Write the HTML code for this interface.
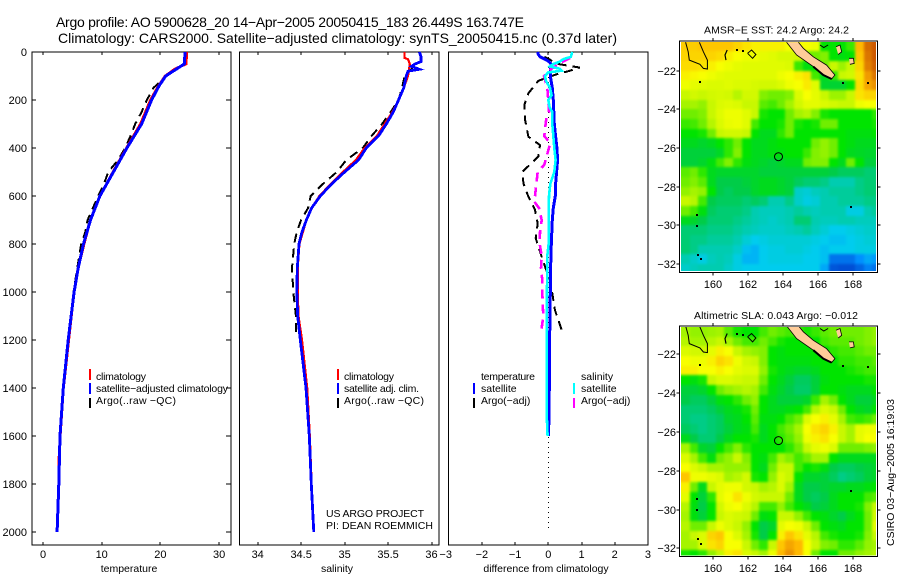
<!DOCTYPE html>
<html>
<head>
<meta charset="utf-8">
<title>Argo profile</title>
<style>
html,body{margin:0;padding:0;background:#fff;}
#chart{display:block;width:900px;height:580px;}
text{font-family:"Liberation Sans",sans-serif;fill:#000;}
.t{font-size:14px;}
.s{font-size:10.5px;}
.k{font-size:11px;}
</style>
</head>
<body>
<svg id="chart" xmlns="http://www.w3.org/2000/svg" width="900" height="580" viewBox="0 0 900 580">
  <rect x="0" y="0" width="900" height="580" fill="#fff"/>
  <text class="t" x="56" y="27" textLength="468">Argo profile: AO 5900628_20 14−Apr−2005 20050415_183 26.449S 163.747E</text>
  <text class="t" x="58" y="43" textLength="559">Climatology: CARS2000. Satellite−adjusted climatology: synTS_20050415.nc (0.37d later)</text>

  <g id="p1"></g>
  <g id="p2"></g>
  <g id="p3"></g>

  <text class="s" x="129" y="572" text-anchor="middle">temperature</text>
  <text class="s" x="337" y="572" text-anchor="middle">salinity</text>
  <text class="s" x="546" y="572" text-anchor="middle">difference from climatology</text>

  <g>
    <line x1="90" y1="369" x2="90" y2="380" stroke="#f00" stroke-width="2"/>
    <line x1="90" y1="383" x2="90" y2="394" stroke="#00f" stroke-width="2"/>
    <line x1="90" y1="398" x2="90" y2="408" stroke="#000" stroke-width="2"/>
    <text class="s" x="96" y="380" textLength="50">climatology</text>
    <text class="s" x="96" y="392" textLength="132">satellite−adjusted climatology</text>
    <text class="s" x="96" y="404" textLength="80">Argo(..raw −QC)</text>
  </g>
  <g>
    <line x1="338" y1="369" x2="338" y2="380" stroke="#f00" stroke-width="2"/>
    <line x1="338" y1="383" x2="338" y2="394" stroke="#00f" stroke-width="2"/>
    <line x1="338" y1="398" x2="338" y2="408" stroke="#000" stroke-width="2"/>
    <text class="s" x="344" y="380" textLength="50">climatology</text>
    <text class="s" x="344" y="392" textLength="75">satellite adj. clim.</text>
    <text class="s" x="344" y="404" textLength="80">Argo(..raw −QC)</text>
  </g>
  <text class="s" x="326" y="517" textLength="98">US ARGO PROJECT</text>
  <text class="s" x="326" y="529" textLength="107">PI: DEAN ROEMMICH</text>

  <g>
    <line x1="474" y1="383" x2="474" y2="394" stroke="#00f" stroke-width="2"/>
    <line x1="474" y1="398" x2="474" y2="408" stroke="#000" stroke-width="2"/>
    <text class="s" x="481" y="380" textLength="54">temperature</text>
    <text class="s" x="481" y="392">satellite</text>
    <text class="s" x="481" y="404">Argo(−adj)</text>
    <line x1="574" y1="383" x2="574" y2="394" stroke="#0ff" stroke-width="2"/>
    <line x1="574" y1="398" x2="574" y2="408" stroke="#f0f" stroke-width="2"/>
    <text class="s" x="581" y="380">salinity</text>
    <text class="s" x="581" y="392">satellite</text>
    <text class="s" x="581" y="404">Argo(−adj)</text>
  </g>

  <defs>
    <clipPath id="clipA"><rect x="681" y="42" width="195" height="229"/></clipPath>
    <clipPath id="clipB"><rect x="681" y="327" width="195" height="228.5"/></clipPath>
    <filter id="soften" x="-5%" y="-5%" width="110%" height="110%" color-interpolation-filters="sRGB">
      <feGaussianBlur stdDeviation="1.4"/>
    </filter>
  </defs>
  <g id="mapA"></g>
  <g id="mapB"></g>
  <text class="s" x="776.5" y="33.5" text-anchor="middle" textLength="145">AMSR−E SST: 24.2 Argo: 24.2</text>
  <text class="s" x="776" y="319" text-anchor="middle" textLength="164">Altimetric SLA: 0.043 Argo: −0.012</text>
  <text class="s" transform="translate(894,546) rotate(-90)" textLength="147">CSIRO 03−Aug−2005 16:19:03</text>
</svg>

<script>
// ---- depth-profile data ----
const depthTicks = [0, 200, 400, 600, 800, 1000, 1200, 1400, 1600, 1800, 2000];
const tempTicks = [0, 10, 20, 30];
const salTicks = [34, 34.5, 35, 35.5, 36];
const salTickLabels = ['34', '34.5', '35', '35.5', '36'];
const diffTicks = [-3, -2, -1, 0, 1, 2, 3];

const tempClimDepth = [0, 50, 70, 100, 140, 200, 300, 400, 500, 600, 700, 800, 900, 1000, 1200, 1400, 1600, 1700, 1800, 2000];
const tempClimValue = [24.5, 24.4, 22.5, 20.8, 19.7, 18.3, 16.6, 14.2, 11.9, 9.7, 8.1, 7.0, 6.0, 5.3, 4.4, 3.5, 2.95, 2.7, 2.7, 2.4];
const tempSatDepth = [0, 50, 70, 100, 140, 200, 300, 400, 500, 600, 700, 800, 900, 1000, 1200, 1400, 1600, 1800, 2000];
const tempSatValue = [24.2, 24.07, 22.8, 20.9, 19.8, 18.5, 16.8, 14.3, 12, 9.7, 8.1, 6.9, 6, 5.3, 4.3, 3.46, 2.9, 2.7, 2.4];
const tempArgoDepth = [0, 50, 75, 100, 150, 200, 250, 300, 350, 400, 450, 500, 550, 600, 650, 700, 750, 800, 900, 1000, 1150];
const tempArgoValue = [24.3, 24.3, 22.5, 20.9, 18.8, 17.7, 16.8, 15.7, 14.9, 14, 12.8, 11.1, 10.4, 9.4, 8.5, 7.6, 7.2, 6.5, 5.85, 5.2, 4.6];

const salClimDepth = [0, 25, 30, 50, 100, 150, 200, 250, 300, 350, 400, 450, 500, 550, 600, 650, 700, 800, 900, 1000, 1100, 1200, 1400, 1600, 1800, 2000];
const salClimValue = [35.69, 35.69, 35.73, 35.75, 35.73, 35.68, 35.62, 35.55, 35.46, 35.37, 35.23, 35.13, 34.98, 34.84, 34.71, 34.62, 34.56, 34.48, 34.46, 34.46, 34.47, 34.51, 34.57, 34.6, 34.62, 34.645];
const salSatDepth = [0, 20, 40, 50, 60, 72, 80, 100, 150, 200, 250, 300, 350, 400, 450, 500, 550, 600, 650, 700, 750, 800, 900, 1000, 1100, 1200, 1400, 1600, 1800, 2000];
const salSatValue = [35.86, 35.88, 35.88, 35.81, 35.77, 35.86, 35.73, 35.71, 35.68, 35.62, 35.56, 35.48, 35.39, 35.25, 35.16, 35, 34.85, 34.72, 34.62, 34.56, 34.51, 34.475, 34.456, 34.45, 34.46, 34.49, 34.556, 34.594, 34.617, 34.645];
const salArgoDepth = [60, 100, 150, 200, 250, 300, 350, 400, 450, 500, 550, 600, 650, 700, 750, 800, 900, 1000, 1100, 1170];
const salArgoValue = [35.8, 35.69, 35.66, 35.62, 35.53, 35.43, 35.31, 35.21, 35.02, 34.91, 34.75, 34.61, 34.58, 34.5, 34.45, 34.42, 34.395, 34.41, 34.44, 34.44];

const dTempSatDepth = [0, 10, 20, 30, 40, 50, 100, 150, 200, 300, 350, 400, 450, 500, 550, 600, 650, 700, 800, 900, 1000, 1100, 1200, 1400, 1600];
const dTempSatValue = [-0.32, -0.3, -0.25, -0.1, 0.02, 0.08, 0.06, 0.12, 0.15, 0.18, 0.22, 0.26, 0.28, 0.25, 0.22, 0.21, 0.15, 0.12, 0.09, 0.07, 0.06, 0.05, 0.04, 0.03, 0.01];
const dSalSatDepth = [0, 20, 30, 40, 50, 60, 70, 78, 85, 100, 120, 150, 180, 200, 230, 250, 300, 350, 400, 450, 500, 550, 600, 700, 800, 850, 1000, 1200, 1500, 1600];
const dSalSatValue = [0.72, 0.68, 0.45, 0.35, 0.15, 0.05, 0.35, 0.4, 0, -0.1, -0.07, 0.05, 0.1, 0, 0.04, 0.12, 0.12, 0.15, 0.18, 0.22, 0.18, 0.06, 0.02, 0.01, 0.01, -0.03, -0.04, -0.05, -0.05, -0.02];
const dSalArgoDepth = [25, 50, 75, 100, 150, 200, 250, 270, 300, 350, 380, 420, 470, 500, 550, 600, 620, 650, 700, 750, 800, 850, 900, 950, 1000, 1050, 1100, 1150, 1175];
const dSalArgoValue = [0.65, 0.3, 0.05, -0.13, -0.03, 0, 0.02, -0.05, -0.08, -0.12, 0.06, -0.02, -0.12, -0.32, -0.36, -0.4, -0.44, -0.28, -0.2, -0.25, -0.26, -0.2, -0.22, -0.18, -0.18, -0.17, -0.15, -0.2, -0.23];
const dTempArgoDepth = [20, 50, 65, 80, 93, 120, 172, 220, 283, 353, 388, 436, 499, 547, 603, 658, 714, 776, 832, 894, 950, 1006, 1075, 1165];
const dTempArgoValue = [-0.12, 0.3, 0.95, 0.6, 0.25, -0.3, -0.6, -0.72, -0.7, -0.6, -0.25, -0.3, -0.78, -0.75, -0.6, -0.4, -0.32, -0.38, -0.25, -0.1, 0.05, 0.12, 0.2, 0.42];
const zeroLineDepth = [0, 2000];
const zeroLineValue = [0, 0];

// ---- map data: 0.5 degree cells, colour level 0 (deep blue) to 10 (brown) ----
const mapLonTicks = [160, 162, 164, 166, 168];
const mapLatTicks = [-22, -24, -26, -28, -30, -32];
const sstRows = [
[8.7,8.7,8.8,8.8,8.8,8.8,8.6,8.4,8.2,8.2,8.2,8.2,8,8,8,7.8,5,5,5,5.5,9,9.8,10],
[8.6,8.6,8.6,8.6,8.5,8.2,8,7.8,7.8,7.6,7.5,7.3,7.3,7.2,6,6,6.2,5,4.8,5,8.8,9.7,10],
[8.5,8.5,8.4,8.2,8,7.8,7.6,7.5,7.5,7.5,7.5,7.5,7.4,5.5,4.8,5,6,7,6.5,7,8.6,9.6,9.9],
[8.2,8.1,8,7.8,7.6,7.5,7.5,7.5,7.5,7.5,7.5,7.8,8,8.2,8.4,5.6,4.6,5.5,7,7.2,8.4,9.3,9.7],
[7.8,7.6,7.5,7.4,7.4,7.5,7.4,7.4,7.3,7.2,7.2,7.4,7.8,8,8.3,7.5,4.4,4.3,4.3,5,8.5,9.2,9.4],
[7,7.2,7,7.2,7.3,7.2,6.8,7.2,7.2,6.2,6,6,6.2,7.4,8,7.6,7,6.5,6.5,7,8.4,8.6,8.6],
[6.6,6.6,6.4,7,7.4,7.5,7.4,7,7,5.8,5.6,6,6.6,7.2,7.6,7.6,7.4,7.2,7,7,7.8,8,8],
[6,6,6.2,7,7.5,7.8,7.8,7.5,7,5.2,5,5,6,6.6,6.8,6.2,5.2,5,5,5,5,5,5.4],
[5.5,5.6,6,6.8,7.4,7.7,7.8,7.5,5.6,5,5,5.2,6,5.2,5,5.2,6,6,5,5,5,5,5.2],
[5,5,5.2,6,7,7.2,7.2,7,5,4.6,4.6,5.4,6,5,5,5,5,5,5,4.8,4.8,4.8,5],
[4.6,4.6,4.4,4.6,5,5.4,6,5,4.6,4.6,4.8,5,5,5,5,6,6.4,6,5,4.8,4.6,4.6,4.6],
[4.2,4.2,4.2,4.2,4.5,5.4,6.2,5,4.6,4.6,4.8,4.8,5,5,5.5,6.2,6.4,6,5,4.6,4.5,4.4,4.4],
[4.2,4.2,4.4,4.8,5.6,6.2,5.4,4.8,4.6,4.4,4.2,4.4,4.6,4.6,6,6.2,6.2,5,4.6,6,5,4.2,4.2],
[5.8,6,5.4,4.6,4.4,4.4,4.4,4.4,4.4,4.2,4.2,4.2,4.2,4.2,4.2,4.2,4.2,4,3.8,3.8,3.8,3.6,3.6],
[6,6.2,5.8,4.6,4,4,4,4.2,4.4,4.6,4.6,4.4,4.2,3.8,3.6,3.6,3.4,3,3,3,3.4,3.6,3.6],
[6.4,6.6,6.4,5,4,3.8,4,4,4.4,4.6,4.6,4.4,4.2,2.6,2.4,2.8,3,3.2,3.2,3.2,3.4,3.6,3.6],
[7,6.8,5.6,4,3.8,3.8,3.8,3.6,3.8,3.6,3,3,3.4,2.6,2.2,2.4,3,3,3.2,3.2,3.2,3.4,3.4],
[6,5.6,4.8,3.8,3.6,3.6,3.6,3.4,3,2.8,2.8,2.8,3,3.2,3,2.8,3,3,3,2.2,2.2,3,3.2],
[4.6,4.4,4,3.6,3.6,3.6,3.4,3.2,3,2.8,2.6,2.8,3,3.6,3.6,3,2.8,2.8,3,3,2.8,2.8,2.8],
[3.6,3.6,3.6,3.4,3.4,3.4,3.2,3,2.8,2.6,2.6,2.6,2.8,3,3.2,2.8,2.4,2,2,2.2,2.4,2.6,2.6],
[3.6,3.4,3.4,3.2,3.2,3.2,3,2.4,2,2.2,2.4,2.4,2.4,2.4,2.4,2.2,2,1.8,1.8,2,2.2,2.4,2.4],
[3.6,3.4,3,3,3,3,2.6,1.8,1.6,2,2.2,2.2,2.4,2.4,2.2,2,1.8,2,2,2,2.2,2.2,2.2],
[3,2.6,2.2,2.8,3,2.8,2.2,1.6,1.6,2,2.2,2.2,2.2,2.2,2,2,1.8,0.6,0.6,0.6,1,1.4,1.2],
[2.6,2.8,3,3,3,2.6,2.2,2,2,2,2,2,2,2,2,2,1.4,0.2,0.1,0.1,0.4,0.8,0.6]
];
const slaRows = [
[6.6,6.4,6.4,6.5,6.6,5.8,5.2,5,5,5.6,6,5.8,5.6,5.5,5.2,5.5,5.8,6,6,6,6,6.2,6.4],
[6.8,6.6,6.6,6.8,7,6.6,6,5.6,5.6,6,5.6,5.2,5,5,5,5,5.6,5.8,5.8,5.8,6,6.2,6.4],
[7.4,7.2,7.2,7.6,8.2,8,7,6.6,6.4,6.2,5,4.8,5,5,5,5,5,5.4,5.6,5.6,5.8,6,6],
[8,7.8,7.8,8.2,8.6,8.4,7.8,7.2,7,6.2,5,4.8,4.8,4.8,4.8,5,5,5,5.4,5.4,5.6,5.6,5.8],
[8.2,8.2,8,8,8.2,8,7.6,7.4,7.4,6.4,5.2,4.8,4.6,4.4,4.4,4.6,5,5,5,5.2,5.4,5.6,5.6],
[5,4.8,5.2,7,7.4,7.4,7.2,7,7,6,5,4.6,4.2,3.8,3.8,4.2,4.8,5,5,5,5,5.2,5.2],
[4.2,4.2,4.4,5,6,6.4,6.6,6.8,6.6,5.6,4.8,4.4,4,3.7,3.7,4.2,5,5,4.8,4.6,4.6,4.6,5],
[4,3.8,3.8,4.2,4.8,5,5.4,6,6.4,5,4.6,4.2,4.2,4.2,4.4,5.5,6.6,6,5,4.6,4.2,4.2,4.6],
[3.6,3.6,3.6,3.8,4.2,4.6,4.8,5.2,6,5,4.6,4.6,4.8,5,5.6,6.8,7.4,7,6,5,4.6,4.4,5],
[3.6,3.4,3.4,3.6,3.8,4.4,4.6,5,5.8,4.8,4.8,5,5.6,6,7.4,8,8.2,7.6,6.6,5.6,5.4,5.6,6],
[3.8,3.6,3.4,3.6,3.8,4.2,4.6,4.8,5.6,4.6,5,5.6,6,6.6,8,8.4,8.6,8.2,7,6.6,7.6,7.8,7.8],
[4.6,4,3.6,3.6,4,4.6,5,5,5.2,4.6,5,5.4,5.8,6.4,7.8,8.2,8.4,8,7,6.6,7.6,8,8],
[6.6,5.6,4.4,4.2,5,5.6,6.2,5.4,5,5,5,5,5.4,6,7,7.6,7.8,7.4,6,6,6,6.2,6.4],
[7.4,6.6,5.6,4.8,6,6.4,7,6.2,5,4.8,5.6,6.6,6.2,5.6,6,6.6,6.6,5,4.6,4.6,4.6,4.6,4.6],
[8,7.4,7,6.6,6.6,6.4,6.4,6.4,5,4.6,6,7,7,5.6,5,5.2,4.8,4,3.8,3.8,4,4.2,4.4],
[8.8,7.8,7.8,7.6,7.4,6.6,6.8,7.2,5.2,5,6.4,7.4,7,5,4.4,4.4,4.2,3.8,3.4,3.6,3.8,4.2,4.4],
[8.2,6,4.6,7,7.6,7.8,7.8,7.2,7,6.6,6.8,7.4,6.6,4.6,4,4,4.2,4.4,4.4,4.6,4.6,4.8,5],
[7.6,5,4.2,5.4,7.6,8,8.4,7.8,7.2,7,7,7,6,4.6,4,3.8,4,4.6,5,5,5,5.6,5.8],
[6.8,4.8,4,5,7.2,7.8,8,7.4,6.8,5.6,5.6,6.4,5.6,5,4.6,4,4.2,4.6,5,5,5.2,6.2,7],
[6.6,4.8,4.2,5,7,7.4,7.2,7,6,4.8,5,7,7,6.4,5.6,5,4.8,4.4,4,4.6,5,6,7.2],
[6.8,6,6,7,7.8,7.4,7,6.4,5,4,4.4,7.6,8,7.8,7,6,5,4.8,4.6,5,5,6,7.6],
[6.6,7,7.4,8.6,8.8,8,7.4,6.6,5.2,4,5,8.2,8.8,8.4,7.6,6.8,5.6,5.2,5,5,5.2,6.2,7],
[6.6,6.6,7.4,8.4,8.6,8,8,7,6,5.4,7,8.8,9.2,9,8,7,6.2,6,5.4,5.4,5.8,6.4,6.6],
[5.2,5,5.4,6.4,7,8.2,8.4,7.4,7,6.6,7.8,9,9.4,9,8,6,5,5,6,6,6.4,6.6,6.8]
];
const mainIslandLon = [164.89, 165.17, 165.75, 166.51, 166.99, 166.8, 166.32, 165.75, 164.79, 164.21];
const mainIslandLat = [-20.53, -20.84, -21.28, -21.71, -22.22, -22.43, -22.22, -21.79, -21.19, -20.53];
const southCoastLon = [165.75, 166.32, 166.8];
const southCoastLat = [-21.79, -22.22, -22.43];
const loyaltyALon = [167.05, 167.28, 167.38, 167.18];
const loyaltyALat = [-20.76, -20.67, -21.02, -21.16];
const loyaltyBLon = [167.8, 168.05, 168.1, 167.85];
const loyaltyBLat = [-21.36, -21.36, -21.62, -21.67];
const reefALon = [158.41, 158.56, 158.62, 159.23, 159.43, 159.66, 159.66, 159.43, 159.2];
const reefALat = [-20.53, -21.02, -21.45, -21.67, -21.88, -21.91, -21.45, -21.02, -20.53];
const reefBLon = [160.8, 160.67, 160.73];
const reefBLat = [-20.93, -21.19, -21.45];
const reefCLon = [161.97, 162.2, 162.45, 162.26, 161.97];
const reefCLat = [-21.1, -20.93, -21.16, -21.36, -21.1];
const reefDLon = [166.13, 166.35, 166.6];
const reefDLat = [-20.67, -20.8, -20.67];
const islandDotLon = [161.34, 161.72, 159.23, 167.43, 168.87, 167.91, 159.08, 159.04, 159.1, 159.27];
const islandDotLat = [-20.93, -20.98, -22.57, -22.62, -22.64, -29.07, -29.47, -30.02, -31.53, -31.76];
const floatLon = [163.747];
const floatLat = [-26.449];

// ---- axis functions ----
function yDepth(d) { return 52 + d * 0.24; }
function xTemp(v) { return 43 + v * 5.87; }
function xSal(v) { return 257.7 + (v - 34) * 86.9; }
function xDiff(v) { return 548.3 + v * 33.2; }
function mapX(lon) { return 713.3 + (lon - 160) * 17.4; }

const NS = 'http://www.w3.org/2000/svg';
function make(tag, parent, attrs) {
  const el = document.createElementNS(NS, tag);
  for (const k in attrs) el.setAttribute(k, attrs[k]);
  parent.appendChild(el);
  return el;
}

function frame(g, left, right, top, bottom) {
  const r = make('rect', g, { x: left, y: top, width: right - left, height: bottom - top, fill: 'none', stroke: '#000', 'stroke-width': 1.3, 'shape-rendering': 'crispEdges' });
  
  
}
function tick(g, x1, y1, x2, y2) {
  const l = make('line', g, { x1: x1, y1: y1, x2: x2, y2: y2, stroke: '#000', 'stroke-width': 1, 'shape-rendering': 'crispEdges' });
  
  
}
function label(g, x, y, txt, anchor) {
  const t = make('text', g, { x: x, y: y, 'text-anchor': anchor, class: 'k' });
  t.textContent = txt;
  
  
}
function fmt(v) { return String(v).replace('-', '−'); }

function series(g, name, xFn, depths, values, color, width, dash) {
  const pts = depths.map(function (d, i) { return xFn(values[i]).toFixed(1) + ',' + yDepth(d).toFixed(1); }).join(' ');
  const attrs = { points: pts, fill: 'none', stroke: color, 'stroke-width': width, 'stroke-linejoin': 'miter', 'shape-rendering': 'crispEdges' };
  if (dash) attrs['stroke-dasharray'] = dash;
  const p = make('polyline', g, attrs);
  
  
}

function panel(id, left, right, xFn, ticks, tickText, yLabels) {
  const g = document.getElementById(id);
  frame(g, left, right, 52, 545);
  ticks.forEach(function (v, i) {
    const x = Math.round(xFn(v));
    if (x > left + 1 && x < right - 1) {
      tick(g, x, 52, x, 55);
      tick(g, x, 545, x, 542);
    }
    label(g, id === 'p3' && v === -3 ? xFn(v) - 3 : xFn(v), 558, tickText[i], 'middle');
  });
  if (yLabels) {
    depthTicks.forEach(function (d) {
      const y = Math.round(yDepth(d));
      tick(g, left, y, left + 4, y);
      tick(g, right, y, right - 5, y);
      label(g, 27, y + 4, String(d), 'end');
    });
  }
  return g;
}

const g1 = panel('p1', 32, 231, xTemp, tempTicks, tempTicks.map(fmt), true);
series(g1, 'temperature-argo-line', xTemp, tempArgoDepth, tempArgoValue, '#000', 2, '9 6');
series(g1, 'temperature-climatology-line', xTemp, tempClimDepth, tempClimValue, '#f00', 2.6);
series(g1, 'temperature-satellite-line', xTemp, tempSatDepth, tempSatValue, '#00f', 3);

const g2 = panel('p2', 239.5, 439, xSal, salTicks, salTickLabels, false);
series(g2, 'salinity-argo-line', xSal, salArgoDepth, salArgoValue, '#000', 2, '9 6');
series(g2, 'salinity-climatology-line', xSal, salClimDepth, salClimValue, '#f00', 2.2);
series(g2, 'salinity-satellite-line', xSal, salSatDepth, salSatValue, '#00f', 2.8);

const g3 = panel('p3', 448.5, 648, xDiff, diffTicks, diffTicks.map(fmt), false);
series(g3, 'zero-reference-line', xDiff, zeroLineDepth, zeroLineValue, '#000', 1, '1 4');
series(g3, 'temperature-diff-argo-line', xDiff, dTempArgoDepth, dTempArgoValue, '#000', 2, '9 6');
series(g3, 'temperature-diff-satellite-line', xDiff, dTempSatDepth, dTempSatValue, '#00f', 3);
series(g3, 'salinity-diff-argo-line', xDiff, dSalArgoDepth, dSalArgoValue, '#f0f', 2.6, '9 6');
series(g3, 'salinity-diff-satellite-line', xDiff, dSalSatDepth, dSalSatValue, '#0ff', 2.6);

// ---- maps ----
const colorStops = ['#0048d0', '#0090ff', '#00ccee', '#00ccb0', '#00cc48', '#00e400', '#70ee00', '#c8f800', '#f8ff00', '#ffb800', '#cc5800'];
function hex2(h, i) { return parseInt(h.substr(i, 2), 16); }
function levelColor(v) {
  const i = Math.min(9, Math.floor(v));
  const f = v - i;
  const a = colorStops[i], b = colorStops[i + 1];
  const c = [1, 3, 5].map(function (p) { return Math.round(hex2(a, p) + (hex2(b, p) - hex2(a, p)) * f); });
  return 'rgb(' + c.join(',') + ')';
}

function drawMap(id, rows, left, right, top, bottom, lat22, pxPerDeg, clip, bottomLabelY, firstRowLat) {
  const g = document.getElementById(id);
  const yFn = function (lat) { return lat22 + (-22 - lat) * pxPerDeg; };
  const holder = make('g', g, { 'clip-path': 'url(#' + clip + ')' });
  
  
  const cells = make('g', holder, { filter: 'url(#soften)' });
  
  
  rows.forEach(function (row, r) {
    row.forEach(function (v, c) {
      const lonA = 158.14 + c * 0.5, latA = firstRowLat - r * 0.5;
      let x0 = Math.round(mapX(lonA)), x1 = Math.round(mapX(lonA + 0.5));
      let y0 = Math.round(yFn(latA)), y1 = Math.round(yFn(latA - 0.5));
      if (c === 0) x0 -= 12;
      if (c === row.length - 1) x1 += 12;
      if (r === 0) y0 -= 12;
      if (r === rows.length - 1) y1 += 12;
      const cell = make('rect', cells, { x: x0, y: y0, width: x1 - x0, height: y1 - y0, fill: levelColor(v), 'shape-rendering': 'crispEdges' });
      
      
    });
  });
  const land = make('g', g, { 'clip-path': 'url(#' + clip + ')' });
  
  
  function shape(name, lons, lats, fill, width) {
    const p = make('polyline', land, {
      points: lons.map(function (lo, i) { return mapX(lo).toFixed(1) + ',' + yFn(lats[i]).toFixed(1); }).join(' '),
      fill: fill, stroke: '#000', 'stroke-width': width
    });
    
    
  }
  shape('main-island', mainIslandLon, mainIslandLat, '#ffcc99', 0.8);
  shape('main-island-south-coast', southCoastLon, southCoastLat, 'none', 2);
  shape('loyalty-island-a', loyaltyALon, loyaltyALat, '#ffcc99', 0.8);
  shape('loyalty-island-b', loyaltyBLon, loyaltyBLat, '#ffcc99', 0.8);
  shape('reef-a', reefALon, reefALat, 'none', 1);
  shape('reef-b', reefBLon, reefBLat, 'none', 1.2);
  shape('reef-c', reefCLon, reefCLat, 'none', 1);
  shape('reef-d', reefDLon, reefDLat, 'none', 1);
  islandDotLon.forEach(function (lo, i) {
    const d = make('rect', land, { x: Math.round(mapX(lo)) - 1, y: Math.round(yFn(islandDotLat[i])) - 1, width: 2, height: 2, fill: '#000' });
    
    
  });
  floatLon.forEach(function (lo, i) {
    const c = make('circle', g, { cx: mapX(lo), cy: yFn(floatLat[i]), r: 4, fill: 'none', stroke: '#000', 'stroke-width': 1 });
    
    
  });
  frame(g, left, right, top, bottom);
  mapLonTicks.forEach(function (lon) {
    const x = Math.round(mapX(lon));
    tick(g, x, top, x, top - 3);
    tick(g, x, bottom, x, bottom + 3);
    label(g, x, bottomLabelY, String(lon), 'middle');
  });
  mapLatTicks.forEach(function (lat) {
    const y = Math.round(yFn(lat));
    tick(g, left, y, left - 3, y);
    tick(g, right, y, right + 3, y);
    label(g, 676, y + 4, fmt(lat), 'end');
  });
}
drawMap('mapA', sstRows, 679.5, 877.5, 41, 272.5, 70.7, 19.33, 'clipA', 288, -20.5);
drawMap('mapB', slaRows, 679.5, 877.5, 326, 556.5, 354.3, 19.4, 'clipB', 572, -20.59);
</script>
</body>
</html>
